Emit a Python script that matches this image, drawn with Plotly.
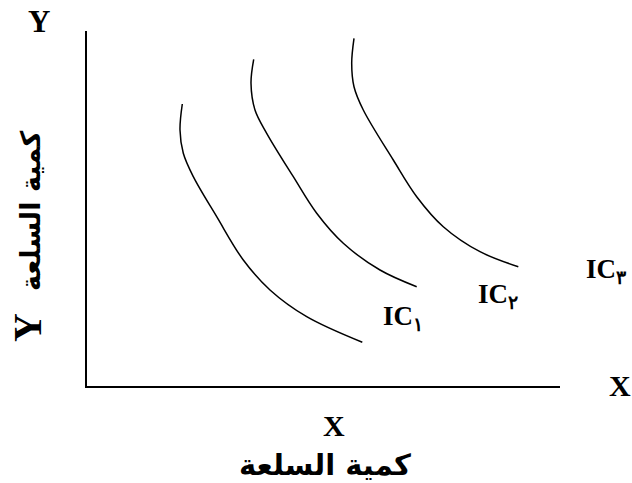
import plotly.graph_objects as go

# Curve data (x = quantity of X, y = quantity of Y)
ic1_x = [95.3, 93.0, 96.3, 106.3, 129.7, 156.3, 183.0, 219.7, 275.3]
ic1_y = [279.0, 253.0, 229.7, 206.3, 166.3, 123.0, 93.0, 66.3, 40.7]
ic2_x = [166.7, 164.0, 168.0, 179.7, 206.3, 229.7, 256.3, 293.0, 329.7]
ic2_y = [323.7, 299.7, 273.0, 249.7, 206.3, 169.7, 139.7, 113.0, 96.3]
ic3_x = [267.0, 264.7, 267.0, 276.3, 306.3, 329.7, 356.3, 393.0, 431.3]
ic3_y = [344.7, 319.7, 296.3, 273.0, 223.0, 186.3, 156.3, 131.3, 116.3]

curve_labels = ["IC<sub>١</sub>", "IC<sub>٢</sub>", "IC<sub>٣</sub>"]

x_letter = "X"
y_letter = "Y"
x_title = "كمية السلعة"
y_title = "كمية السلعة"

L, T = 87, 31
W, H = 473, 355
FW, FH = 632, 483

fig = go.Figure()
for xs, ys in [(ic1_x, ic1_y), (ic2_x, ic2_y), (ic3_x, ic3_y)]:
    fig.add_trace(go.Scatter(x=xs, y=[v + (T + H) - 383 for v in ys], mode="lines",
                             line=dict(color="black", width=1.5, shape="spline"),
                             showlegend=False, hoverinfo="skip"))

serif = "Liberation Serif"

def paper(xp, yp):
    return (xp - L) / W, ((T + H) - yp) / H

items = [
    ("<b>" + curve_labels[0] + "</b>", (403, 318), 27, serif, 0),
    ("<b>" + curve_labels[1] + "</b>", (498, 296), 27, serif, 0),
    ("<b>" + curve_labels[2] + "</b>", (606, 271), 27, serif, 0),
    ("<b>" + y_letter + "</b>", (39, 21), 31, serif, 0),
    ("<b>" + x_letter + "</b>", (620, 385), 30, serif, 0),
    ("<b>" + x_letter + "</b>", (334, 425), 30, serif, 0),
    ("<b>" + x_title + "</b>", (325, 465), 29, "DejaVu Sans", 0),
    ("<b>" + y_letter + "</b>", (27, 328), 40, serif, -90),
    ("<b>" + y_title + "</b>", (30, 211), 27, "DejaVu Sans", -90),
]
for text, (xp, yp), size, fam, ang in items:
    ax, ay = paper(xp, yp)
    fig.add_annotation(x=ax, y=ay, xref="paper", yref="paper", text=text, showarrow=False,
                       textangle=ang, font=dict(family=fam, size=size, color="black"),
                       xanchor="center", yanchor="middle")

fig.update_layout(
    width=FW, height=FH,
    margin=dict(l=L, r=FW - L - W, t=T, b=FH - T - H, pad=0),
    paper_bgcolor="white", plot_bgcolor="white",
    xaxis=dict(range=[0, W], showgrid=False, zeroline=False, showticklabels=False,
               ticks="", showline=True, linecolor="black", linewidth=2, fixedrange=True),
    yaxis=dict(range=[0, H], showgrid=False, zeroline=False, showticklabels=False,
               ticks="", showline=True, linecolor="black", linewidth=2, fixedrange=True),
)

fig.write_html("out.html", config={"displayModeBar": False},
               post_script="document.body.style.margin='0';document.body.style.overflow='hidden';")
